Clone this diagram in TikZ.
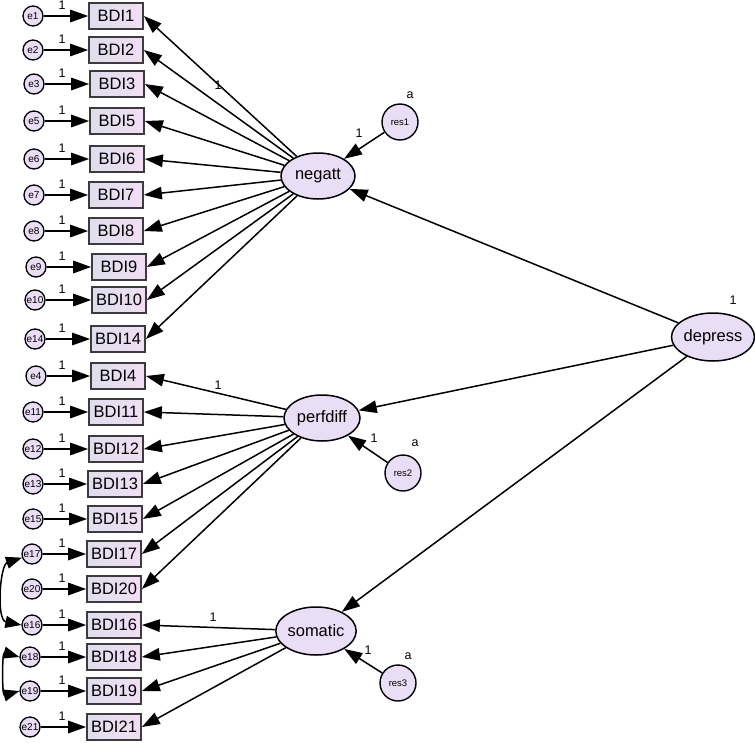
\documentclass[tikz,border=0pt]{standalone}
\usepackage{fontspec}
\setmainfont{Liberation Sans}
\usetikzlibrary{arrows.meta,shapes.geometric}
\definecolor{boxL}{RGB}{222,222,236}
\definecolor{boxR}{RGB}{242,222,244}
\definecolor{latfill}{RGB}{233,222,246}
\definecolor{edge}{RGB}{60,60,60}
\begin{document}
\begin{tikzpicture}[x=1pt,y=-1pt,
  obs/.style={rectangle,draw=edge,line width=1.7pt,left color=boxL,right color=boxR,
    minimum width=54pt,minimum height=26pt,inner sep=0pt,font=\fontsize{16.5}{18}\selectfont},
  err/.style={circle,draw=black,line width=1.3pt,fill=latfill,minimum size=20pt,inner sep=0pt,
    font=\fontsize{10}{11}\selectfont},
  res/.style={circle,draw=black,line width=1.4pt,fill=latfill,minimum size=36pt,inner sep=0pt,
    font=\fontsize{9.5}{10}\selectfont},
  lat/.style={ellipse,draw=black,line width=1.5pt,fill=latfill,inner sep=0pt,
    font=\fontsize{16.5}{18}\selectfont},
  lbl/.style={inner sep=0pt,font=\fontsize{12.5}{14}\selectfont},
  arr/.style={line width=1.5pt,-{Triangle[length=18pt,width=12.5pt]}},
  dbl/.style={line width=1.5pt,{Triangle[length=16pt,width=12pt]}-{Triangle[length=16pt,width=12pt]}}
]
\useasboundingbox (0,0) rectangle (755,742);

% latent variables
\node[lat,minimum width=74pt,minimum height=46pt] (negatt) at (318,176) {negatt};
\node[lat,minimum width=76pt,minimum height=46pt] (perfdiff) at (322,418) {perfdiff};
\node[lat,minimum width=76pt,minimum height=48pt] (somatic) at (316,631) {somatic};
\node[lat,minimum width=66pt,minimum height=48pt] (depress) at (713,337) {depress};

% residuals
\node[res] (res1) at (400,122) {res1};
\node[res] (res2) at (403,473) {res2};
\node[res] (res3) at (398,683) {res3};
\node[lbl] (a1) at (410,95) {a};
\node[lbl] (a2) at (415,443) {a};
\node[lbl] (a3) at (408,656) {a};
\node[lbl] (r1) at (359,133) {1};
\node[lbl] (r2) at (374,438) {1};
\node[lbl] (r3) at (368,650) {1};
\node[lbl] (dv) at (733,300) {1};
\draw[arr] (res1) -- (negatt);
\draw[arr] (res2) -- (perfdiff);
\draw[arr] (res3) -- (somatic);

% structural paths
\draw[arr] (depress) -- (negatt);
\draw[arr] (depress) -- (perfdiff);
\draw[arr] (depress) -- (somatic);

% indicators with errors
\foreach \n/\bx/\by/\ex in {1/116/16/33, 2/116/50/33, 3/117/84/34, 5/117/121/34, 6/117/159/34,
  7/116/195/34, 8/116/231/34, 9/119/267/36, 10/119/300/35, 14/118/339/35,
  4/118/376/36, 11/116/412/33, 12/116/449/33, 13/115/484/33, 15/115/519/33,
  17/114/554/32, 20/114/589/32, 16/114/625/32, 18/114/657/30, 19/114/691/30, 21/114/727/30} {
  \node[obs] (b\n) at (\bx,\by) {BDI\n};
  \node[err] (e\n) at (\ex,\by) {e\n};
  \draw[arr] (e\n) -- (b\n.west);
  \node[lbl] (l\n) at (62,\by-11) {1};
}

\foreach \n in {1,2,3,5,6,7,8,9,10,14} { \draw[arr] (negatt) -- (b\n.east); }
\foreach \n in {4,11,12,13,15,17,20} { \draw[arr] (perfdiff) -- (b\n.east); }
\foreach \n in {16,18,19,21} { \draw[arr] (somatic) -- (b\n.east); }

\node[lbl] (ln) at (218,85) {1};
\node[lbl] (lp) at (218,385) {1};
\node[lbl] (ls) at (213,617) {1};

% covariances
\draw[dbl] (e17.200) .. controls (0,565) and (-4,620) .. (e16.west);
\draw[dbl] (e18.west) .. controls (2,652) and (2,696) .. (e19.west);
\end{tikzpicture}
\end{document}
